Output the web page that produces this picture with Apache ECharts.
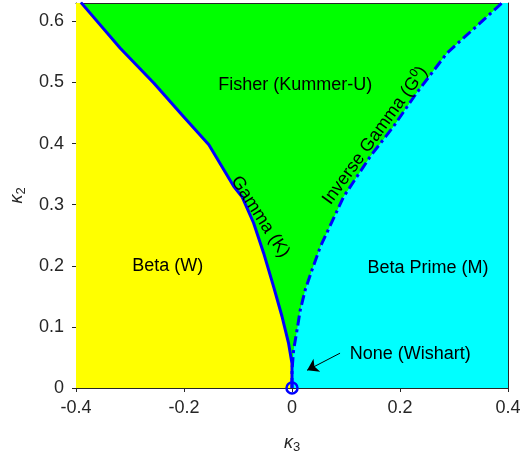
<!DOCTYPE html>
<html>
<head>
<meta charset="utf-8">
<script src="https://cdn.jsdelivr.net/npm/echarts@6/dist/echarts.min.js"></script>
<style>html,body{margin:0;padding:0;background:#fff}#c{width:520px;height:461px}</style>
</head>
<body>
<div id="c"></div>
<script>
// Axis extents and ticks
var xRange = [-0.4, 0.4];
var yRange = [0, 0.63];
var xTickStep = 0.2;
var yTickStep = 0.1;

// Gamma (K) boundary, from origin upward
var gammaK3 = [0, 0, -0.0063, -0.0185, -0.0341, -0.0526, -0.0711, -0.0926, -0.108, -0.154, -0.204, -0.256, -0.318, -0.391];
var gammaK2 = [0, 0.040, 0.073, 0.117, 0.166, 0.221, 0.270, 0.313, 0.330, 0.398, 0.447, 0.499, 0.556, 0.631];

// Inverse Gamma (G0) boundary, from origin upward
var invK3 = [0, 0, 0.003, 0.0093, 0.0154, 0.0246, 0.037, 0.0524, 0.0956, 0.145, 0.188, 0.231, 0.287, 0.389];
var invK2 = [0, 0.029, 0.062, 0.095, 0.128, 0.161, 0.193, 0.231, 0.313, 0.379, 0.428, 0.483, 0.548, 0.630];

// Wishart point
var wishartK3 = [0];
var wishartK2 = [0];

// Annotations
var annoText = ['Fisher (Kummer-U)', 'Beta (W)', 'Beta Prime (M)', 'None (Wishart)', 'Gamma (K)', 'Inverse Gamma (G{sup|0})'];
var annoK3 = [0.006, -0.23, 0.252, 0.219, -0.059, 0.154];
var annoK2 = [0.496, 0.199, 0.197, 0.056, 0.280, 0.413];
var annoAngle = [0, 0, 0, 0, -57, 54];

// Arrow pointing to the Wishart point
var arrowK3 = [0.089, 0.028];
var arrowK2 = [0.057, 0.029];

var AXC = '#262626';
var FONT = 'Liberation Sans, Arial, Helvetica, sans-serif';

function zip(xs, ys) { return xs.map(function (x, i) { return [x, ys[i]]; }); }

var yellowPts = [[xRange[0], yRange[0]]].concat(zip(gammaK3, gammaK2)).concat([[xRange[0], gammaK2[gammaK2.length - 1]]]);
var cyanPts = [[invK3[0], invK2[0]], [xRange[1], yRange[0]], [xRange[1], invK2[invK2.length - 1]]].concat(zip(invK3, invK2).reverse());

function polygonSeries(pts, color) {
  return {
    type: 'custom', coordinateSystem: 'cartesian2d', silent: true, clip: true, z: 1,
    data: pts,
    renderItem: function (params, api) {
      if (params.dataIndex !== 0) return null;
      var p = pts.map(function (d) { return api.coord(d); });
      return { type: 'polygon', shape: { points: p }, style: { fill: color, stroke: null } };
    }
  };
}

var chart = echarts.init(document.getElementById('c'), null, { renderer: 'canvas' });
var option = {
  animation: false,
  backgroundColor: '#ffffff',
  grid: { left: 76, right: 12, top: 3, bottom: 73, show: true, backgroundColor: '#00ff00', borderWidth: 0, containLabel: false, outerBoundsMode: 'none' },
  xAxis: [{
    type: 'value', min: xRange[0], max: xRange[1], interval: xTickStep,
    name: '{k|κ}{s|3}', nameLocation: 'middle', nameGap: 44,
    nameTextStyle: { rich: { k: { fontSize: 18, fontStyle: 'italic', color: AXC, fontFamily: FONT }, s: { fontSize: 13, color: AXC, fontFamily: FONT, padding: [9, 0, 0, 0] } } },
    axisLine: { show: true, onZero: false, lineStyle: { color: AXC, width: 1 } },
    axisTick: { show: true, inside: false, length: 4, lineStyle: { color: AXC } },
    axisLabel: { color: AXC, fontSize: 18, fontFamily: FONT, margin: 11 },
    splitLine: { show: false }
  }, {
    type: 'value', position: 'top', min: xRange[0], max: xRange[1], interval: xTickStep,
    axisLine: { show: true, onZero: false, lineStyle: { color: AXC, width: 1 } },
    axisTick: { show: false }, axisLabel: { show: false }, splitLine: { show: false }
  }],
  yAxis: [{
    type: 'value', min: yRange[0], max: yRange[1], interval: yTickStep,
    name: '{k|κ}{s|2}', nameLocation: 'middle', nameGap: 47,
    nameTextStyle: { rich: { k: { fontSize: 18, fontStyle: 'italic', color: AXC, fontFamily: FONT }, s: { fontSize: 13, color: AXC, fontFamily: FONT, padding: [9, 0, 0, 0] } } },
    axisLine: { show: true, onZero: false, lineStyle: { color: AXC, width: 1 } },
    axisTick: { show: true, inside: false, length: 4, lineStyle: { color: AXC } },
    axisLabel: { color: AXC, fontSize: 18, fontFamily: FONT, margin: 12, showMaxLabel: false },
    splitLine: { show: false }
  }, {
    type: 'value', position: 'right', min: yRange[0], max: yRange[1], interval: yTickStep,
    axisLine: { show: true, onZero: false, lineStyle: { color: AXC, width: 1 } },
    axisTick: { show: false }, axisLabel: { show: false }, splitLine: { show: false }
  }],
  series: [
    polygonSeries(yellowPts, '#ffff00'),
    polygonSeries(cyanPts, '#00ffff'),
    {
      type: 'line', data: zip(gammaK3, gammaK2), showSymbol: false, symbol: 'none', clip: true, z: 3,
      lineStyle: { color: '#0000ff', width: 3, type: 'solid' }
    },
    {
      type: 'line', data: zip(invK3, invK2), showSymbol: false, symbol: 'none', clip: true, z: 3,
      lineStyle: { color: '#0000ff', width: 3, type: [10, 4, 3, 4], cap: 'butt' }
    },
    {
      type: 'scatter', data: zip(wishartK3, wishartK2), symbol: 'circle', symbolSize: 11, clip: false, z: 6,
      itemStyle: { color: 'rgba(0,0,0,0)', borderColor: '#0000ff', borderWidth: 2.5, opacity: 1 }
    },
    {
      type: 'line', data: zip(arrowK3, arrowK2), symbol: 'none', clip: false, z: 6,
      lineStyle: { width: 0, opacity: 0 },
      markLine: {
        silent: true, symbol: ['none', 'arrow'], symbolSize: 11, label: { show: false },
        lineStyle: { color: '#000000', width: 1, type: 'solid' },
        data: [[{ coord: [arrowK3[0], arrowK2[0]] }, { coord: [arrowK3[1], arrowK2[1]] }]]
      }
    },
    {
      type: 'custom', coordinateSystem: 'cartesian2d', silent: true, clip: false, z: 7,
      data: zip(annoK3, annoK2),
      renderItem: function (params, api) {
        var i = params.dataIndex;
        var p = api.coord([annoK3[i], annoK2[i]]);
        return {
          type: 'text', x: p[0], y: p[1], rotation: annoAngle[i] * Math.PI / 180,
          style: {
            text: annoText[i], fill: '#000000', fontSize: 18, fontFamily: FONT,
            align: 'center', verticalAlign: 'middle',
            rich: { sup: { fontSize: 12, fill: '#000000', fontFamily: FONT, padding: [0, 0, 10, 0] } }
          }
        };
      }
    }
  ]
};
chart.setOption(option);
</script>
</body>
</html>
